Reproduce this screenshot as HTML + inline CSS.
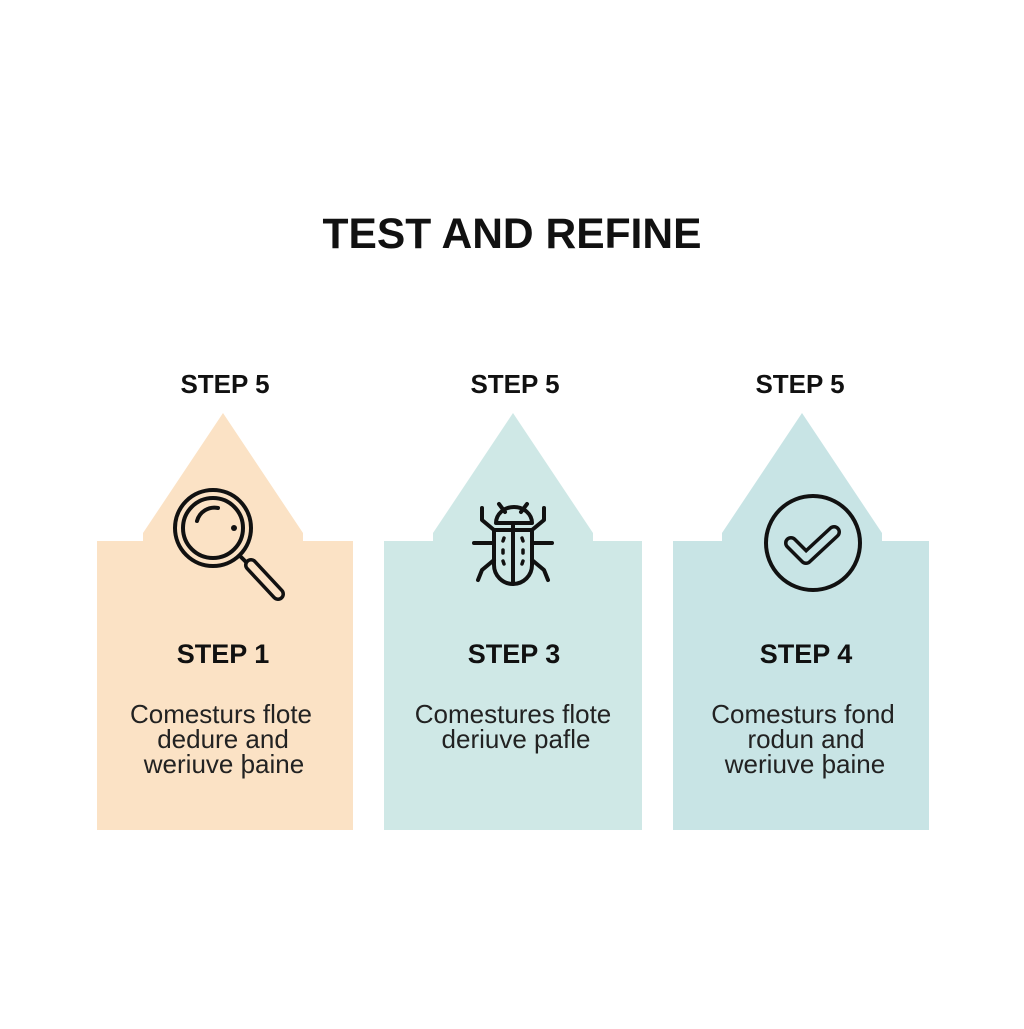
<!DOCTYPE html>
<html><head><style>
body{margin:0;background:#fff;}
</style></head><body>
<svg width="1024" height="1024" viewBox="0 0 1024 1024" xmlns="http://www.w3.org/2000/svg" font-family="Liberation Sans, Arial, sans-serif">
<rect width="1024" height="1024" fill="#fff"/>
<text x="512" y="248" text-anchor="middle" font-size="43" font-weight="bold" fill="#111" textLength="379" lengthAdjust="spacingAndGlyphs">TEST AND REFINE</text>
<g font-size="26" font-weight="bold" fill="#111" text-anchor="middle">
<text x="225" y="393">STEP 5</text>
<text x="515" y="393">STEP 5</text>
<text x="800" y="393">STEP 5</text>
</g>
<polygon points="223,413 303,533 303,541 353,541 353,830 97,830 97,541 143,541 143,533" fill="#fbe2c5"/>
<polygon points="513,413 593,533 593,541 642,541 642,830 384,830 384,541 433,541 433,533" fill="#cfe8e6"/>
<polygon points="802,413 882,533 882,541 929,541 929,830 673,830 673,541 722,541 722,533" fill="#c8e4e5"/>
<g fill="none" stroke="#111" stroke-width="4" stroke-linecap="round">
<circle cx="213" cy="528" r="38"/>
<circle cx="213" cy="528" r="30"/>
<path d="M197 521 A18 18 0 0 1 218 508"/>
<line x1="240" y1="556" x2="250" y2="566"/>
<line x1="251" y1="565" x2="278" y2="594" stroke-width="14"/>
<line x1="251" y1="565" x2="278" y2="594" stroke-width="7" stroke="#fbe2c5"/>
</g>
<circle cx="234" cy="528" r="3" fill="#111"/>
<g fill="none" stroke="#111" stroke-width="4" stroke-linecap="round" stroke-linejoin="round">
<path d="M496 523 A18 16 0 0 1 532 523 Z"/>
<path d="M494 530 L494 565 A19 19 0 0 0 532 565 L532 530 Z" fill="#cfe8e6"/>
<line x1="513" y1="525" x2="513" y2="584"/>
<path d="M505 512 L499 504 M521 512 L527 504"/>
<path d="M494 530 L482 520 L482 508 M532 530 L544 520 L544 508"/>
<path d="M474 543 L494 543 M532 543 L552 543"/>
<path d="M494 560 L482 570 L478 580 M532 560 L544 570 L548 580"/>
<path d="M504 538 l-1 3 M503 550 l0 3 M503 561 l1 3 M522 538 l1 3 M523 550 l0 3 M523 561 l-1 3" stroke-width="3.5"/>
</g>
<circle cx="813" cy="543" r="47" fill="none" stroke="#111" stroke-width="4"/>
<path d="M791 543 L806 558 L834 532" fill="none" stroke="#111" stroke-width="14" stroke-linecap="round" stroke-linejoin="round"/>
<path d="M791 543 L806 558 L834 532" fill="none" stroke="#c8e4e5" stroke-width="7" stroke-linecap="round" stroke-linejoin="round"/>
<g font-size="27" font-weight="bold" fill="#111" text-anchor="middle">
<text x="223" y="663">STEP 1</text>
<text x="514" y="663">STEP 3</text>
<text x="806" y="663">STEP 4</text>
</g>
<g font-size="26" fill="#222" text-anchor="middle">
<text x="221" y="723">Comesturs flote</text>
<text x="223" y="748">dedure and</text>
<text x="224" y="773">weriuve þaine</text>
<text x="513" y="723">Comestures flote</text>
<text x="516" y="748">deriuve paﬂe</text>
<text x="803" y="723">Comesturs fond</text>
<text x="806" y="748">rodun and</text>
<text x="805" y="773">weriuve þaine</text>
</g>
</svg>
</body></html>
